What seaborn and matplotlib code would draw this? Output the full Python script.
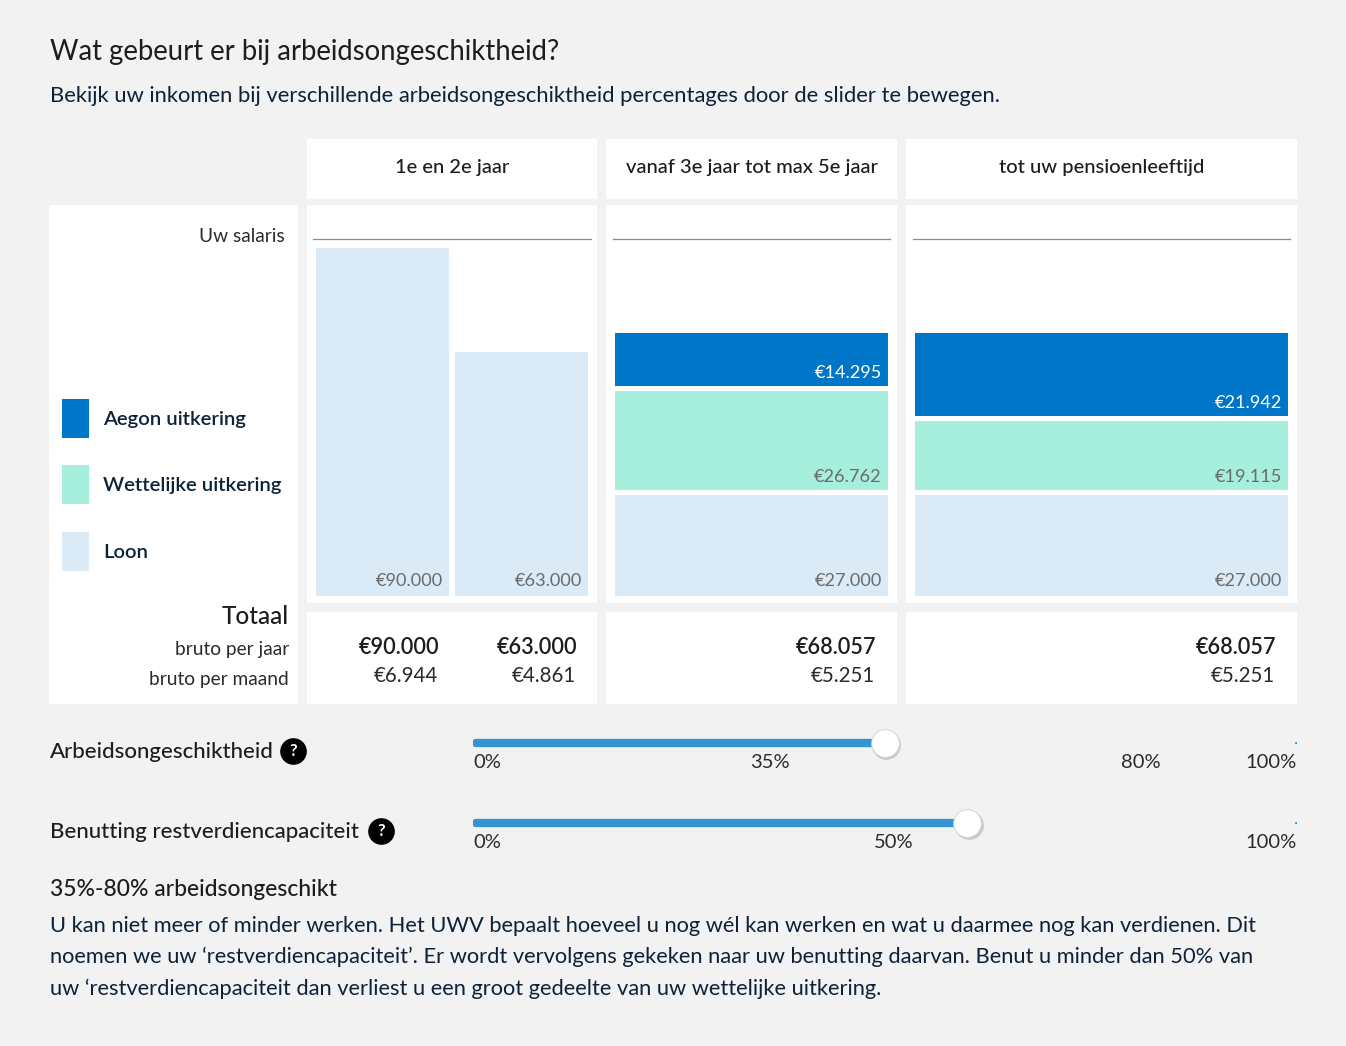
import matplotlib
matplotlib.use("Agg")
import matplotlib.pyplot as plt
from matplotlib.patches import Rectangle
import seaborn as sns

# chart data
kolommen = ["1e en 2e jaar", "vanaf 3e jaar tot max 5e jaar", "tot uw pensioenleeftijd"]
loon = [[90000, 63000], [27000], [27000]]
wettelijk = [[0, 0], [26762], [19115]]
aegon = [[0, 0], [14295], [21942]]
totaal_jaar = [[90000, 63000], [68057], [68057]]
totaal_maand = [[6944, 4861], [5251], [5251]]
legenda = ["Aegon uitkering", "Wettelijke uitkering", "Loon"]

arbeid_ticks = ["0%", "35%", "80%", "100%"]
arbeid_tick_pos = [0, 36, 81, 100]
arbeid_waarde = 50
benut_ticks = ["0%", "50%", "100%"]
benut_tick_pos = [0, 51, 100]
benut_waarde = 60

C_AEGON = "#0076c8"
C_WETT = "#a6efdd"
C_LOON = "#daeaf6"
C_SLIDER = "#3794d3"
BG = "#f2f2f2"
NAVY = "#0d2238"
DARK = "#1d1d1b"
SOFT = "#2b2b2b"

sns.set_theme(style="white")
plt.rcParams["font.family"] = ["Lato", "DejaVu Sans"]

W, H = 1346, 1046
fig = plt.figure(figsize=(W / 100, H / 100), dpi=100)
fig.patch.set_facecolor(BG)


def px_axes(x0, y0, x1, y1):
    return fig.add_axes([x0 / W, 1 - y1 / H, (x1 - x0) / W, (y1 - y0) / H])


def euro(v):
    return "€" + f"{v:,}".replace(",", ".")


# overlay in pixel coordinates for panels and text
bg = px_axes(0, 0, W, H)
bg.set_xlim(0, W)
bg.set_ylim(H, 0)
bg.axis("off")

col_x = [(307, 597), (606, 897), (906, 1297)]
for x0, x1 in col_x:
    for y0, y1 in [(139, 199), (205, 603), (612, 704)]:
        bg.add_patch(Rectangle((x0, y0), x1 - x0, y1 - y0, color="white", lw=0))
bg.add_patch(Rectangle((49, 205), 249, 499, color="white", lw=0))

bg.text(50, 52, "Wat gebeurt er bij arbeidsongeschiktheid?", fontsize=19.8,
        color=DARK, va="center")
bg.text(50, 96, "Bekijk uw inkomen bij verschillende arbeidsongeschiktheid percentages "
        "door de slider te bewegen.", fontsize=15.85, color=NAVY, va="center")

for (x0, x1), naam in zip(col_x, kolommen):
    bg.text((x0 + x1) / 2, 168, naam, fontsize=14.5, color=DARK,
            ha="center", va="center", fontweight="medium")

bg.text(285, 236, "Uw salaris", fontsize=13.8, color=SOFT, ha="right", va="center")

# legend
for kleur, naam, y in zip([C_AEGON, C_WETT, C_LOON], legenda, [399, 465, 532]):
    bg.add_patch(Rectangle((62, y), 27, 39, color=kleur, lw=0))
    bg.text(103, y + 20, naam, fontsize=14.6, color=NAVY, va="center", fontweight="semibold")

bg.text(289, 617, "Totaal", fontsize=17.5, color=DARK, ha="right", va="center",
        fontweight="medium")
bg.text(289, 649, "bruto per jaar", fontsize=13.8, color=SOFT, ha="right", va="center")
bg.text(289, 680, "bruto per maand", fontsize=13.8, color=SOFT, ha="right", va="center")

# totals
tot_right = [[439, 577], [876], [1276]]
for rights, jaar, maand in zip(tot_right, totaal_jaar, totaal_maand):
    for xr, j, m in zip(rights, jaar, maand):
        bg.text(xr, 647, euro(j), fontsize=15.6, color=DARK, ha="right", va="center",
                fontweight="semibold")
        bg.text(xr - 1, 676, euro(m), fontsize=14.8, color=SOFT, ha="right", va="center")

# stacked bars per column
chart_x = [(313, 591), (613, 890), (913, 1290)]
bar_w = [0.957, 0.986, 0.99]
for ci, (x0, x1) in enumerate(chart_x):
    ax = px_axes(x0, 239, x1, 596)
    ax.patch.set_alpha(0)
    n = len(loon[ci])
    ax.set_xlim(-0.5, n - 0.5)
    ax.set_ylim(0, 92300)
    for s in ["left", "right", "bottom"]:
        ax.spines[s].set_visible(False)
    ax.spines["top"].set_color("#8c8c8c")
    ax.spines["top"].set_linewidth(0.9)
    ax.set_xticks([])
    ax.set_yticks([])
    for i in range(n):
        segs = [(loon[ci][i], C_LOON, "#6b6b6b"),
                (wettelijk[ci][i], C_WETT, "#6b6b6b"),
                (aegon[ci][i], C_AEGON, "white")]
        bottom = 0
        for val, kleur, tkleur in segs:
            if val <= 0:
                continue
            ax.bar(i, val, bottom=bottom, width=bar_w[ci], color=kleur, lw=0)
            if bottom > 0:
                ax.hlines(bottom, i - 0.5, i + 0.5, color="white", lw=3.6)
            ax.annotate(euro(val), (i + bar_w[ci] / 2, bottom), xytext=(-4.5, 10.5),
                        textcoords="offset points", ha="right", va="center",
                        fontsize=13.1, color=tkleur)
            bottom += val

# sliders
bg.text(50, 752, "Arbeidsongeschiktheid", fontsize=16, color=DARK, va="center",
        fontweight="medium")
bg.text(50, 832, "Benutting restverdiencapaciteit", fontsize=16, color=DARK, va="center",
        fontweight="medium")
for qx, qy in [(293, 751), (381, 831)]:
    bg.scatter([qx], [qy], s=330, color="black", zorder=3)
    bg.text(qx, qy + 0.5, "?", color="white", fontsize=12, fontweight="bold",
            ha="center", va="center", zorder=4)

for y_track, waarde, ticks, pos in [(743, arbeid_waarde, arbeid_ticks, arbeid_tick_pos),
                                    (823, benut_waarde, benut_ticks, benut_tick_pos)]:
    sax = px_axes(473, y_track - 20, 1297, y_track + 35)
    sax.patch.set_alpha(0)
    sax.axis("off")
    sax.set_xlim(0, 100)
    sax.set_ylim(y_track + 35, y_track - 20)
    sax.plot([0.4, waarde], [y_track, y_track], color=C_SLIDER, lw=6,
             solid_capstyle="round")
    sax.plot([99.9, 100], [y_track, y_track], color=C_SLIDER, lw=1.5)
    sax.scatter([waarde + 0.15], [y_track + 2], s=430, color="#9a9a9a", alpha=0.45,
                lw=0, zorder=3)
    sax.scatter([waarde], [y_track], s=400, color="white", edgecolor="#d0d0d0",
                lw=0.6, zorder=4)
    for lab, p in zip(ticks, pos):
        ha = "left" if p == 0 else ("right" if p == 100 else "center")
        sax.text(p, y_track + 20, lab, fontsize=14.5, color=SOFT, ha=ha, va="center")

# explanation
bg.text(50, 889, "35%-80% arbeidsongeschikt", fontsize=16.5, color=DARK, va="center",
        fontweight="medium")
regels = [
    "U kan niet meer of minder werken. Het UWV bepaalt hoeveel u nog wél kan werken en wat u daarmee nog kan verdienen. Dit",
    "noemen we uw ‘restverdiencapaciteit’. Er wordt vervolgens gekeken naar uw benutting daarvan. Benut u minder dan 50% van",
    "uw ‘restverdiencapaciteit dan verliest u een groot gedeelte van uw wettelijke uitkering.",
]
for regel, y in zip(regels, [926, 957, 989]):
    bg.text(50, y, regel, fontsize=15.75, color=NAVY, va="center")

fig.savefig("out.png", dpi=100, facecolor=BG)
